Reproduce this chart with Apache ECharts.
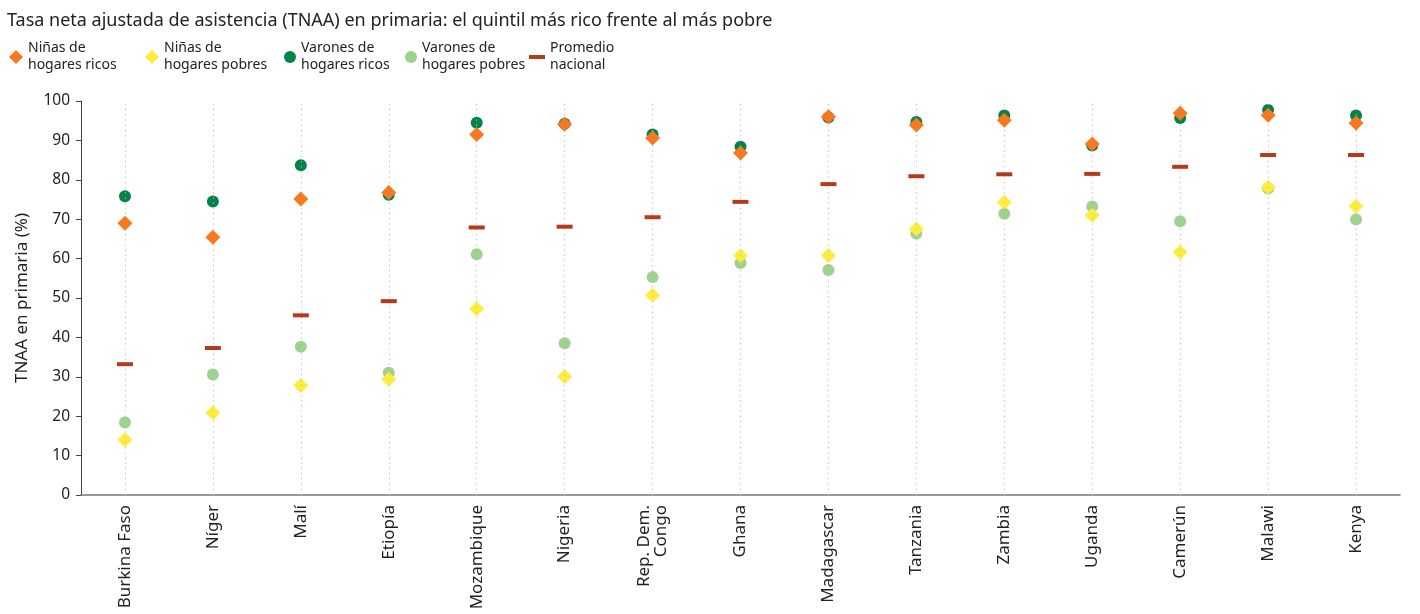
<!DOCTYPE html>
<html>
<head>
<meta charset="utf-8">
<script src="https://cdn.jsdelivr.net/npm/echarts@6/dist/echarts.min.js"></script>
<style>html,body{margin:0;padding:0;background:#fff;}#c{width:1420px;height:614px;}</style>
</head>
<body>
<div id="c"></div>
<script>
const categories = ['Burkina Faso','Níger','Malí','Etiopía','Mozambique','Nigeria','Rep. Dem.\nCongo','Ghana','Madagascar','Tanzania','Zambia','Uganda','Camerún','Malawi','Kenya'];
const ninasRicos    = [69.0,65.4,75.1,76.8,91.5,94.1,90.6,86.8,96.0,93.9,95.1,89.1,96.9,96.4,94.4];
const ninasPobres   = [14.0,20.9,27.8,29.4,47.3,30.0,50.7,60.7,60.8,67.5,74.3,71.0,61.6,78.1,73.3];
const varonesRicos  = [75.8,74.5,83.7,76.2,94.5,94.2,91.5,88.4,95.8,94.7,96.3,88.7,95.7,97.7,96.3];
const varonesPobres = [18.4,30.6,37.6,31.0,61.1,38.5,55.3,58.9,57.1,66.4,71.4,73.2,69.5,77.8,69.9];
const promedio      = [33.2,37.3,45.6,49.2,67.9,68.1,70.5,74.4,78.9,80.9,81.4,81.5,83.3,86.3,86.3];
const yTicks = {min:0, max:100, interval:10};

const names = {
  nr: 'Niñas de\nhogares ricos',
  np: 'Niñas de\nhogares pobres',
  vr: 'Varones de\nhogares ricos',
  vp: 'Varones de\nhogares pobres',
  pm: 'Promedio\nnacional'
};
const colors = {nr:'#F47920', np:'#FFEC3D', vr:'#00844A', vp:'#9DD28F', pm:'#B43A1B'};
const FONT = 'Noto Sans';

function legendAt(left, name, icon, w, h){
  return {
    left: left, top: 35, orient:'horizontal',
    itemWidth: w, itemHeight: h, itemGap: 0,
    data: [{name: name, icon: icon}],
    textStyle: {fontFamily: FONT, fontSize: 14, color:'#222', lineHeight: 17, padding:[0,0,0,0]},
    selectedMode: false
  };
}

const chart = echarts.init(document.getElementById('c'), null, {renderer:'canvas'});
chart.setOption({
  animation: false,
  backgroundColor: '#fff',
  title: {
    text: 'Tasa neta ajustada de asistencia (TNAA) en primaria: el quintil más rico frente al más pobre',
    left: 2, top: 7,
    textStyle: {fontFamily: FONT, fontSize: 18, fontWeight: 'normal', color: '#222'}
  },
  legend: [
    legendAt(4, names.nr, 'diamond', 14, 14),
    legendAt(140, names.np, 'diamond', 14, 14),
    legendAt(279, names.vr, 'circle', 12, 12),
    legendAt(400, names.vp, 'circle', 12, 12),
    legendAt(524, names.pm, 'rect', 16, 4)
  ],
  grid: {left: 81, right: 20, top: 101, bottom: 119, containLabel: false},
  xAxis: {
    type: 'category',
    data: categories,
    boundaryGap: true,
    axisLine: {show: true, lineStyle: {color: '#777', width: 1.5}},
    axisTick: {show: false},
    splitLine: {show: false},
    axisLabel: {rotate: 90, margin: 10, fontFamily: FONT, fontSize: 17, color: '#222', lineHeight: 17, interval: 0}
  },
  yAxis: {
    type: 'value',
    min: yTicks.min, max: yTicks.max, interval: yTicks.interval,
    name: 'TNAA en primaria (%)',
    nameLocation: 'middle', nameGap: 50, nameRotate: 90,
    nameTextStyle: {fontFamily: FONT, fontSize: 17, color: '#222'},
    axisLine: {show: true, lineStyle: {color: '#444', width: 1}},
    axisTick: {show: true, length: 5, lineStyle: {color: '#444'}},
    splitLine: {show: false},
    axisLabel: {fontFamily: FONT, fontSize: 15.5, color: '#222', margin: 11}
  },
  series: [
    {
      name: names.vr, type: 'scatter', data: varonesRicos, symbol: 'circle', symbolSize: 12,
      itemStyle: {color: colors.vr, opacity: 1}, z: 2,
      markLine: {
        silent: true, symbol: 'none', label: {show: false},
        lineStyle: {color: '#bdbdbd', type: [1.2, 4], width: 1},
        data: categories.map(c => ({xAxis: c}))
      }
    },
    {name: names.vp, type: 'scatter', data: varonesPobres, symbol: 'circle', symbolSize: 12, itemStyle: {color: colors.vp, opacity: 1}, z: 3},
    {name: names.np, type: 'scatter', data: ninasPobres, symbol: 'diamond', symbolSize: 15, itemStyle: {color: colors.np, opacity: 1}, z: 4},
    {name: names.nr, type: 'scatter', data: ninasRicos, symbol: 'diamond', symbolSize: 15, itemStyle: {color: colors.nr, opacity: 1}, z: 5},
    {name: names.pm, type: 'scatter', data: promedio, symbol: 'rect', symbolSize: [16, 4], itemStyle: {color: colors.pm, opacity: 1}, z: 6}
  ]
});
</script>
</body>
</html>
